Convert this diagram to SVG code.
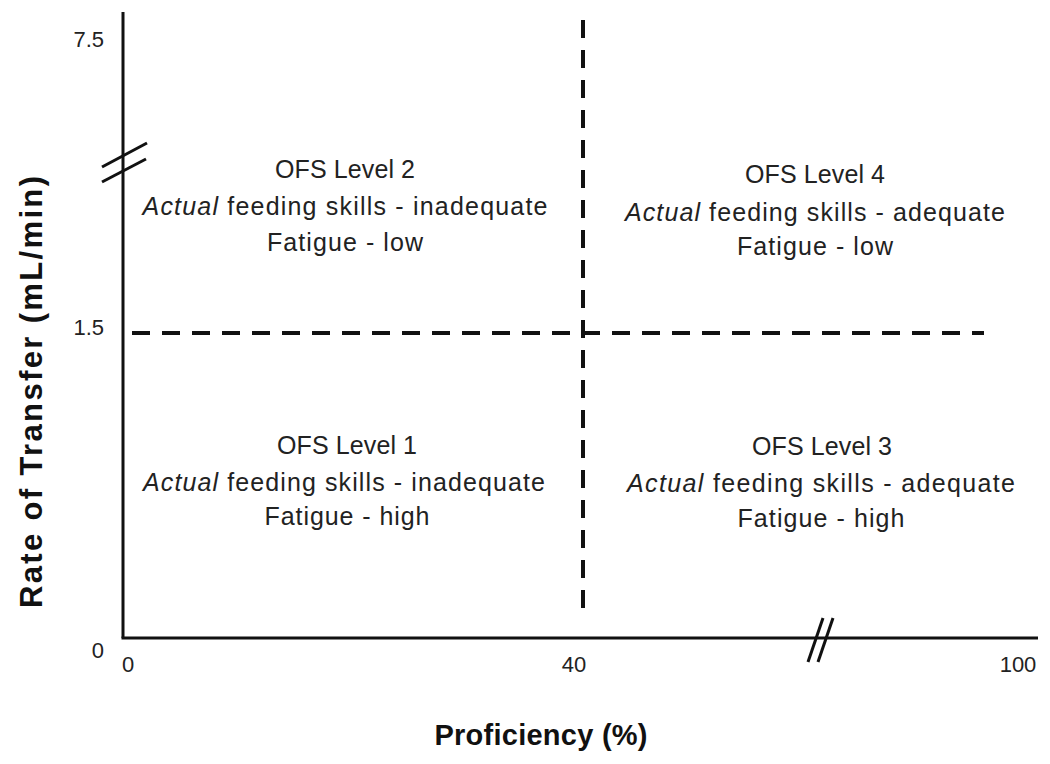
<svg xmlns="http://www.w3.org/2000/svg" width="1050" height="764" viewBox="0 0 1050 764">
<style>
.axis{stroke:#111;stroke-width:3;fill:none}
.dash{stroke:#111;stroke-width:4;stroke-dasharray:18 12;fill:none}
.q{font-family:"Liberation Sans",Arial,sans-serif;font-size:25px;fill:#222;text-anchor:middle}
.num{font-family:"Liberation Sans",Arial,sans-serif;font-size:22px;fill:#222}
.lab{font-family:"Liberation Sans",Arial,sans-serif;font-weight:bold;fill:#111;text-anchor:middle}
</style>
<rect width="1050" height="764" fill="#fff"/>
<g id="axes">
<line class="axis" x1="123" y1="12" x2="123" y2="638"/>
<line class="axis" x1="121.5" y1="638" x2="1038" y2="638"/>
<line class="axis" x1="102" y1="167" x2="147" y2="143"/>
<line class="axis" x1="102" y1="182" x2="146" y2="159"/>
<line class="axis" x1="808" y1="662" x2="823" y2="618"/>
<line class="axis" x1="818" y1="662" x2="833" y2="618"/>
</g>
<g id="connectors">
<line class="dash" x1="132" y1="333" x2="984" y2="333"/>
<line class="dash" x1="583" y1="20" x2="583" y2="618"/>
</g>
<g id="ticks">
<text class="num" x="104" y="47" text-anchor="end">7.5</text>
<text class="num" x="104" y="335" text-anchor="end">1.5</text>
<text class="num" x="104" y="658" text-anchor="end">0</text>
<text class="num" x="128" y="672" text-anchor="middle">0</text>
<text class="num" x="574" y="672" text-anchor="middle">40</text>
<text class="num" x="1018" y="672" text-anchor="middle">100</text>
</g>
<g id="level2">
<text class="q" x="345" y="178" textLength="140">OFS Level 2</text>
<text class="q" x="345" y="215" textLength="405"><tspan font-style="italic">Actual</tspan> feeding skills - inadequate</text>
<text class="q" x="345" y="251" textLength="156">Fatigue - low</text>
</g>
<g id="level4">
<text class="q" x="815" y="183" textLength="140">OFS Level 4</text>
<text class="q" x="815" y="221" textLength="380"><tspan font-style="italic">Actual</tspan> feeding skills - adequate</text>
<text class="q" x="815" y="255" textLength="156">Fatigue - low</text>
</g>
<g id="level1">
<text class="q" x="347" y="454" textLength="140">OFS Level 1</text>
<text class="q" x="344" y="491" textLength="402"><tspan font-style="italic">Actual</tspan> feeding skills - inadequate</text>
<text class="q" x="347" y="525" textLength="165">Fatigue - high</text>
</g>
<g id="level3">
<text class="q" x="822" y="455" textLength="140">OFS Level 3</text>
<text class="q" x="821" y="492" textLength="388"><tspan font-style="italic">Actual</tspan> feeding skills - adequate</text>
<text class="q" x="821" y="527" textLength="167">Fatigue - high</text>
</g>
<g id="labels">
<text class="lab" x="541" y="745" font-size="29" textLength="213">Proficiency (%)</text>
<text class="lab" transform="translate(42 392) rotate(-90)" font-size="31" textLength="432">Rate of Transfer (mL/min)</text>
</g>
</svg>
